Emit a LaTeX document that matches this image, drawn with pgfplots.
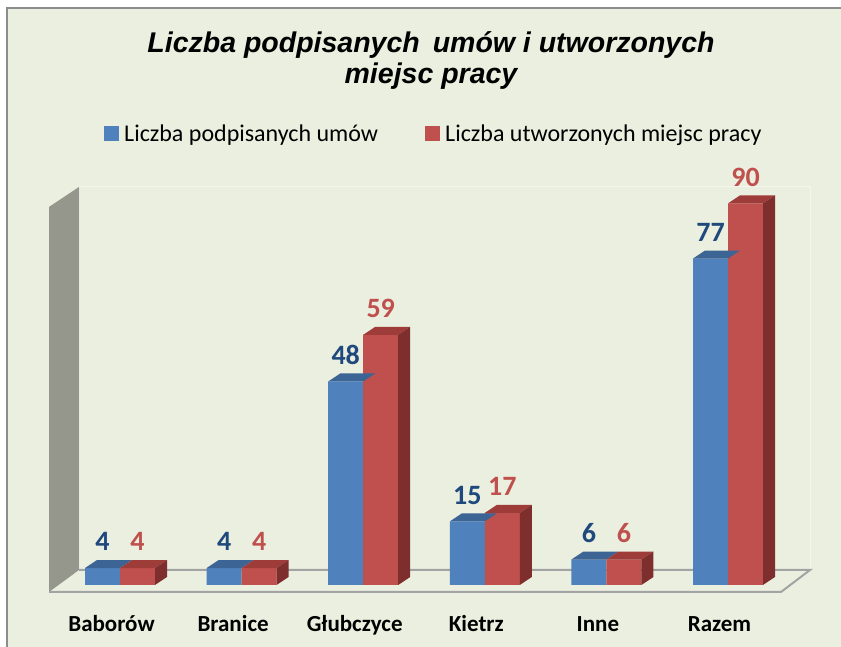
\documentclass[border=0pt]{standalone}
\usepackage{pgfplots}
\pgfplotsset{compat=1.18}
\usepackage{fontspec}
\setmainfont{Carlito}
\newfontfamily\titlefont{Liberation Sans}
\definecolor{bg}{HTML}{EAEFDF}
\definecolor{bordergray}{HTML}{8C8C8C}
\definecolor{wallgray}{HTML}{95978D}
\definecolor{floorgray}{HTML}{A3A3A3}
\definecolor{wallline}{HTML}{F3F6EC}
\definecolor{cblue}{HTML}{4F81BD}
\definecolor{blueTop}{HTML}{3C6495}
\definecolor{cred}{HTML}{C0504D}
\definecolor{redTop}{HTML}{9E3C3A}
\definecolor{redSide}{HTML}{7D2E2D}
\definecolor{lblue}{HTML}{1F497D}
\definecolor{lred}{HTML}{C0504D}
\begin{document}
\begin{tikzpicture}
\fill[white] (0pt,0pt) rectangle (841pt,647pt);
\fill[bg] (7pt,0pt) rectangle (841pt,639pt);
\draw[bordergray, line width=2pt] (7pt,0pt) -- (7pt,639pt) -- (841pt,639pt);
% back wall outline
\draw[wallline, line width=1pt] (79pt,77pt) rectangle (810pt,460pt);
% side wall
\fill[wallgray] (49pt,55pt) -- (79pt,77pt) -- (79pt,460pt) -- (49pt,440pt) -- cycle;
% floor
\draw[floorgray, line width=2pt, line join=miter] (49pt,55pt) -- (781pt,55pt) -- (810pt,77pt) -- (79pt,77pt);
% title
\node[font=\titlefont\bfseries\itshape\fontsize{28.5}{31}\selectfont, anchor=base, inner sep=0pt] at (431pt,594pt) {Liczba podpisanych\hspace{5pt} umów i utworzonych};
\node[font=\titlefont\bfseries\itshape\fontsize{28.5}{31}\selectfont, anchor=base, inner sep=0pt] at (431pt,563pt) {miejsc pracy};
\begin{axis}[
  at={(59.2pt,62pt)}, anchor=south west,
  width=729.6pt, height=424pt, scale only axis,
  xmin=-0.5, xmax=5.5, ymin=0, ymax=100,
  clip=false,
  axis line style={draw=none},
  major tick length=0pt,
  xtick={0,1,2,3,4,5},
  xticklabels={Baborów,Branice,Głubczyce,Kietrz,Inne,Razem},
  ytick=\empty,
  xticklabel style={font=\bfseries\fontsize{23}{23}\selectfont, anchor=base, yshift=-47pt, xshift=-8.5pt, inner sep=0pt},
  /pgf/number format/assume math mode=true,
  legend style={at={(axis description cs:0.0607,1.064)}, anchor=west, draw=none, fill=none, inner sep=0pt,
    legend columns=2, font=\fontsize{24}{24}\selectfont, nodes={inner sep=2.5pt},
    cells={anchor=base west},
    /tikz/every odd column/.append style={column sep=3pt},
    /tikz/every even column/.append style={column sep=44pt}},
]
\addplot[ybar, bar width=35pt, bar shift=-17.5pt, fill=cblue, draw=none,
  legend image code/.code={\fill[cblue] (0pt,0pt) rectangle (15pt,15pt);},
  nodes near coords,
  every node near coord/.append style={font=\bfseries\fontsize{28}{28}\selectfont, text=lblue, inner sep=0pt, yshift=17pt, xshift=-17.5pt}]
  coordinates {(0,4) (1,4) (2,48) (3,15) (4,6) (5,77)};
\addlegendentry{Liczba podpisanych umów}
\addplot[forget plot, scatter, only marks, mark=*, mark size=0.01pt,
  mark options={draw opacity=0, fill opacity=0},
  visualization depends on={rawy \as \bv},
  scatter/@pre marker code/.code={%
    \fill[blueTop, fill opacity=1] (-35pt,0pt) -- (0pt,0pt) -- (12pt,8pt) -- (-23pt,8pt) -- cycle;},
  scatter/@post marker code/.code={}]
  coordinates {(0,4) (1,4) (2,48) (3,15) (4,6) (5,77)};
\addplot[ybar, bar width=35pt, bar shift=17.5pt, fill=cred, draw=none,
  legend image code/.code={\fill[cred] (0pt,0pt) rectangle (15pt,15pt);},
  nodes near coords,
  every node near coord/.append style={font=\bfseries\fontsize{28}{28}\selectfont, text=lred, inner sep=0pt, yshift=17pt, xshift=17.5pt}]
  coordinates {(0,4) (1,4) (2,59) (3,17) (4,6) (5,90)};
\addlegendentry{Liczba utworzonych miejsc pracy}
\addplot[forget plot, scatter, only marks, mark=*, mark size=0.01pt,
  mark options={draw opacity=0, fill opacity=0},
  visualization depends on={rawy \as \bv},
  scatter/@pre marker code/.code={%
    \fill[redTop, fill opacity=1] (0pt,0pt) -- (35pt,0pt) -- (47pt,8pt) -- (12pt,8pt) -- cycle;
    \fill[redSide, fill opacity=1] (35pt,0pt) -- (47pt,8pt) -- (47pt,{(8-4.24*\bv)*1pt}) -- (35pt,{(-4.24*\bv)*1pt}) -- cycle;},
  scatter/@post marker code/.code={}]
  coordinates {(0,4) (1,4) (2,59) (3,17) (4,6) (5,90)};
\end{axis}
\pgfresetboundingbox
\path (0pt,0pt) rectangle (841pt,647pt);
\end{tikzpicture}
\end{document}
